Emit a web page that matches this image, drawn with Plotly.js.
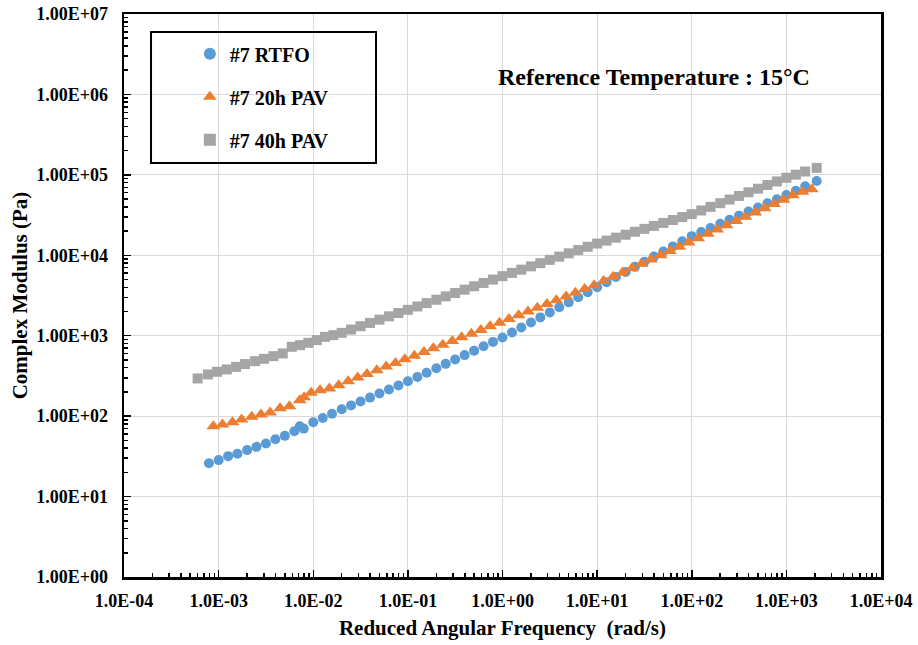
<!DOCTYPE html>
<html>
<head>
<meta charset="utf-8">
<script src="https://cdn.plot.ly/plotly-3.0.1.min.js"></script>
<style>html,body{margin:0;padding:0;background:#fff;}#chart{width:918px;height:645px;}</style>
</head>
<body>
<div id="chart"></div>
<script>
// ---- data ----
const seriesNames = ["#7 RTFO", "#7 20h PAV", "#7 40h PAV"];

const rtfoX = [0.00079, 0.001, 0.00126, 0.00158, 0.002, 0.00251, 0.00316, 0.00398, 0.00501, 0.00631, 0.0072, 0.00794,
  0.01, 0.0126, 0.0158, 0.02, 0.0251, 0.0316, 0.0398, 0.0501, 0.0631, 0.0794,
  0.1, 0.126, 0.158, 0.2, 0.251, 0.316, 0.398, 0.501, 0.631, 0.794,
  1, 1.26, 1.58, 2, 2.51, 3.16, 3.98, 5.01, 6.31, 7.94,
  10, 12.6, 15.8, 20, 25.1, 31.6, 39.8, 50.1, 63.1, 79.4,
  100, 126, 158, 200, 251, 316, 398, 501, 631, 794,
  1000, 1260, 1580, 2090];
const rtfoY = [26, 28.4, 31.8, 34, 37.8, 41.5, 45.7, 51.7, 56.9, 65, 75, 70,
  84, 95, 107, 122, 136, 152, 170, 191, 214, 241,
  272, 306, 347, 394, 447, 507, 574, 652, 739, 838,
  950, 1096, 1267, 1462, 1690, 1950, 2254, 2600, 3006, 3470,
  4000, 4630, 5360, 6210, 7180, 8320, 9630, 11150, 12900, 14940,
  17300, 19450, 21880, 24600, 27670, 31120, 35000, 39360, 44260, 49780,
  56000, 63500, 72000, 84000];

const pav20X = [0.00088, 0.0011, 0.0014, 0.00175, 0.00224, 0.0028, 0.0035, 0.00446, 0.0056, 0.0072, 0.008, 0.0095,
  0.0118, 0.0148, 0.0186, 0.0234, 0.0295, 0.037, 0.047, 0.059, 0.074, 0.093,
  0.117, 0.148, 0.186, 0.234, 0.295, 0.37, 0.47, 0.59, 0.74, 0.93,
  1.17, 1.48, 1.86, 2.34, 2.95, 3.7, 4.7, 5.9, 7.4, 9.3,
  11.7, 14.8, 18.6, 23.4, 29.5, 37, 47, 59, 74, 93,
  117, 148, 186, 234, 295, 370, 470, 590, 740, 930,
  1170, 1480, 1860];
const pav20Y = [75, 79, 84, 91, 98, 105, 111, 125, 133, 158, 172, 195,
  210, 221, 243, 272, 302, 335, 372, 413, 459, 509,
  565, 628, 697, 774, 860, 955, 1061, 1178, 1309, 1453,
  1617, 1800, 2004, 2232, 2485, 2767, 3080, 3430, 3820, 4255,
  4790, 5420, 6120, 6920, 7830, 8850, 10000, 11320, 12790, 14460,
  16340, 18470, 20870, 23590, 26670, 30140, 34070, 38510, 43530, 49200,
  55600, 61700, 66000];

const pav40X = [0.0006, 0.00077, 0.00096, 0.00122, 0.00153, 0.0019, 0.00243, 0.00302, 0.00379, 0.00476, 0.00593, 0.00725,
  0.00887, 0.0109, 0.0133, 0.0163, 0.02, 0.0251, 0.0316, 0.0398, 0.0501, 0.0631, 0.0794,
  0.1, 0.126, 0.158, 0.2, 0.251, 0.316, 0.398, 0.501, 0.631, 0.794,
  1, 1.26, 1.58, 2, 2.51, 3.16, 3.98, 5.01, 6.31, 7.94,
  10, 12.6, 15.8, 20, 25.1, 31.6, 39.8, 50.1, 63.1, 79.4,
  100, 126, 158, 200, 251, 316, 398, 501, 631, 794,
  1000, 1260, 1580, 2090];
const pav40Y = [294, 330, 356, 381, 410, 444, 483, 516, 557, 602, 728, 764,
  816, 881, 968, 1016, 1086, 1193, 1312, 1442, 1585, 1742, 1914,
  2100, 2310, 2545, 2800, 3085, 3395, 3740, 4120, 4530, 4990,
  5500, 6040, 6620, 7280, 7980, 8770, 9630, 10570, 11610, 12740,
  14000, 15230, 16560, 18020, 19600, 21320, 23210, 25240, 27460, 29870,
  32500, 36070, 40000, 44430, 49300, 54700, 60700, 67300, 74800, 82900,
  92000, 100500, 110000, 122000];

const xTickVals = [1e-4, 1e-3, 1e-2, 1e-1, 1e0, 1e1, 1e2, 1e3, 1e4];
const xTickText = ["1.0E-04", "1.0E-03", "1.0E-02", "1.0E-01", "1.0E+00", "1.0E+01", "1.0E+02", "1.0E+03", "1.0E+04"];
const yTickVals = [1e0, 1e1, 1e2, 1e3, 1e4, 1e5, 1e6, 1e7];
const yTickText = ["1.00E+00", "1.00E+01", "1.00E+02", "1.00E+03", "1.00E+04", "1.00E+05", "1.00E+06", "1.00E+07"];

const xTitle = "Reduced Angular Frequency\u00a0\u00a0(rad/s)";
const yTitle = "Complex Modulus (Pa)";
const noteText = "Reference Temperature : 15°C";

// ---- chart ----
const FONT = "Liberation Serif, 'Times New Roman', Times, serif";

const traces = [
  {x: rtfoX, y: rtfoY, name: seriesNames[0], legendgroup: "a", mode: "markers", type: "scatter",
   marker: {symbol: "circle", size: 10, color: "#5B9BD5"}},
  {x: pav20X, y: pav20Y, name: seriesNames[1], legendgroup: "b", mode: "markers", type: "scatter",
   marker: {symbol: "triangle-up", size: 12, color: "#ED7D31"}},
  {x: pav40X, y: pav40Y, name: seriesNames[2], legendgroup: "c", mode: "markers", type: "scatter",
   marker: {symbol: "square", size: 10, color: "#A5A5A5"}}
];

const axisCommon = {
  type: "log",
  tickmode: "array",
  ticks: "inside",
  ticklen: 7,
  tickwidth: 1.5,
  tickcolor: "#000",
  showline: true,
  linecolor: "#000",
  linewidth: 2.5,
  mirror: true,
  showgrid: true,
  gridcolor: "#D9D9D9",
  gridwidth: 1,
  zeroline: false,
  tickfont: {family: FONT, size: 18, color: "#000", weight: "bold"},
  minor: {dtick: "D1", ticks: "inside", ticklen: 4, tickwidth: 1.5, tickcolor: "#000", showgrid: false}
};

const layout = {
  width: 918,
  height: 645,
  margin: {l: 124, r: 37, t: 14, b: 68, pad: 0},
  paper_bgcolor: "#fff",
  plot_bgcolor: "#fff",
  font: {family: FONT, color: "#000", weight: "bold"},
  showlegend: true,
  legend: {
    x: 0.087, y: 0.964, xanchor: "left", yanchor: "top",
    bgcolor: "rgba(0,0,0,0)", borderwidth: 0,
    font: {family: FONT, size: 20, color: "#000", weight: "bold"},
    tracegroupgap: 14, itemsizing: "constant"
  },
  xaxis: Object.assign({}, axisCommon, {
    range: [-4, 4],
    tickvals: xTickVals, ticktext: xTickText,
    ticklabelstandoff: 6,
    title: {text: xTitle, font: {family: FONT, size: 21, color: "#000", weight: "bold"}, standoff: 10}
  }),
  yaxis: Object.assign({}, axisCommon, {
    range: [0, 7],
    tickvals: yTickVals, ticktext: yTickText,
    ticklabelstandoff: 10,
    title: {text: yTitle, font: {family: FONT, size: 21, color: "#000", weight: "bold"}, standoff: 3}
  }),
  shapes: [
    {type: "rect", xref: "paper", yref: "paper", x0: 0.0357, x1: 0.3329, y0: 0.7353, y1: 0.968,
     line: {color: "#000", width: 2}, fillcolor: "rgba(0,0,0,0)"}
  ],
  annotations: [
    {text: noteText, xref: "paper", yref: "paper", x: 0.700, y: 0.888, xanchor: "center", yanchor: "middle",
     showarrow: false, font: {family: FONT, size: 24, color: "#000", weight: "bold"}}
  ]
};

Plotly.newPlot("chart", traces, layout, {displayModeBar: false, staticPlot: true});
</script>
</body>
</html>
